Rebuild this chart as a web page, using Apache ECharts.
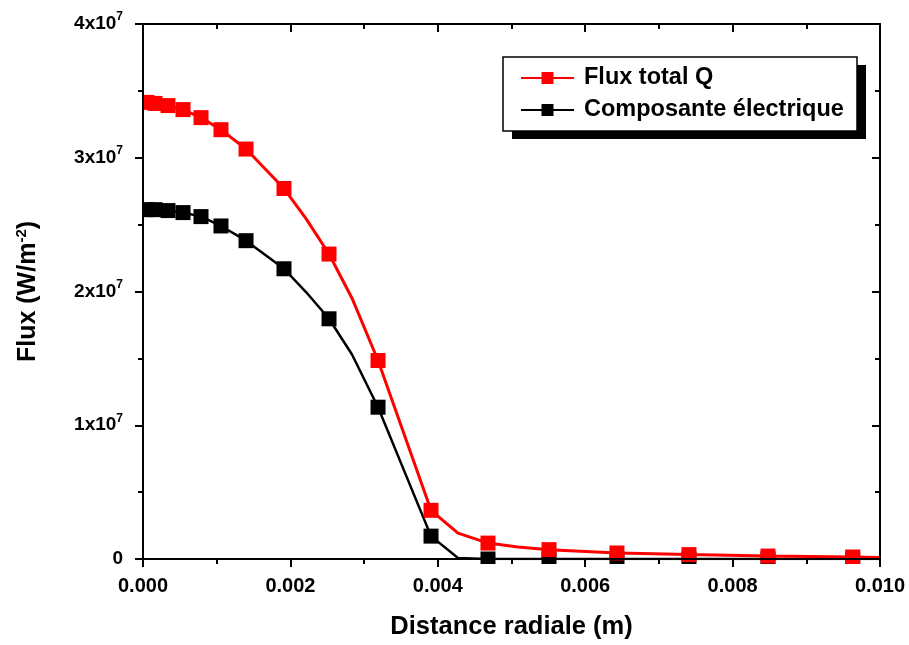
<!DOCTYPE html>
<html>
<head>
<meta charset="utf-8">
<script src="https://cdn.jsdelivr.net/npm/echarts@6/dist/echarts.min.js"></script>
<style>
html,body{margin:0;padding:0;background:#fff;}
#chart{width:909px;height:645px;}
</style>
</head>
<body>
<div id="chart"></div>
<script>
// Radial distance (m)
var radialX = [0.000054, 0.000163, 0.000339, 0.000543, 0.000787, 0.001058, 0.001398, 0.001913, 0.002212, 0.002524, 0.002836, 0.003189, 0.003908, 0.004274, 0.004681, 0.005088, 0.005509, 0.006431, 0.007408, 0.00848, 0.00963, 0.0100];
// Total flux Q (W/m^2)
var fluxTotal = [3.414e7, 3.406e7, 3.39e7, 3.36e7, 3.30e7, 3.21e7, 3.065e7, 2.77e7, 2.545e7, 2.28e7, 1.95e7, 1.484e7, 0.364e7, 0.193e7, 0.119e7, 0.089e7, 0.070e7, 0.045e7, 0.033e7, 0.022e7, 0.015e7, 0.011e7];
// Electric component (W/m^2)
var fluxElectric = [2.612e7, 2.612e7, 2.605e7, 2.59e7, 2.56e7, 2.49e7, 2.38e7, 2.17e7, 1.996e7, 1.796e7, 1.529e7, 1.135e7, 0.171e7, 0.007e7, 0, 0, 0, 0, 0, 0, 0, 0];
// Which points carry a square marker (1) or are line-only (0)
var markerFlags = [1,1,1,1,1,1,1,1,0,1,0,1,1,0,1,0,1,1,1,1,1,0];
// Tick labels
var xTickLabels = ['0.000','0.002','0.004','0.006','0.008','0.010'];
var yTickMantissa = ['0','1','2','3','4'];

var seriesNames = ['Flux total Q', 'Composante électrique'];
var FONT = 'Liberation Sans, Arial, sans-serif';

function buildData(ys) {
  return radialX.map(function (x, i) {
    return markerFlags[i]
      ? { value: [x, ys[i]] }
      : { value: [x, ys[i]], symbol: 'none' };
  });
}

var chart = echarts.init(document.getElementById('chart'), null, { renderer: 'canvas' });

var GL = 143, GT = 24, GW = 737, GH = 539;
var axisLine = { show: true, onZero: false, lineStyle: { color: '#000', width: 2 } };
var tickStyle = { width: 2, color: '#000' };

var option = {
  backgroundColor: '#fff',
  animation: false,
  grid: { left: GL, top: GT, width: GW, height: GH, containLabel: false },
  graphic: [
    // white masks outside the plot frame (marks are clipped by the frame)
    { type: 'rect', z: 5, silent: true, shape: { x: GL - 30, y: GT + GH + 1, width: GW + 60, height: 12 }, style: { fill: '#fff' } },
    { type: 'rect', z: 5, silent: true, shape: { x: GL - 12, y: 60, width: 11, height: 200 }, style: { fill: '#fff' } },
    // legend frame with offset shadow
    { type: 'rect', z: 6, silent: true, shape: { x: 512, y: 65, width: 354, height: 74 }, style: { fill: '#000' } },
    { type: 'rect', z: 7, silent: true, shape: { x: 503, y: 57, width: 354, height: 74 }, style: { fill: '#fff', stroke: '#000', lineWidth: 1.5 } }
  ],
  legend: {
    data: seriesNames,
    orient: 'vertical',
    left: 503,
    top: 57,
    z: 20,
    padding: [9, 17, 6, 17],
    itemGap: 8,
    itemWidth: 53,
    itemHeight: 15,
    textStyle: { color: '#000', fontFamily: FONT, fontWeight: 'bold', fontSize: 23.5, padding: [0, 0, 0, 5] }
  },
  xAxis: [{
    type: 'value',
    min: 0, max: 0.01, interval: 0.002,
    position: 'bottom',
    z: 10,
    name: 'Distance radiale (m)',
    nameLocation: 'middle',
    nameGap: 55,
    nameTextStyle: { color: '#000', fontFamily: FONT, fontWeight: 'bold', fontSize: 25.5 },
    axisLine: axisLine,
    axisTick: { show: true, inside: false, length: 8, lineStyle: tickStyle },
    minorTick: { show: true, splitNumber: 2, length: 5, lineStyle: tickStyle },
    splitLine: { show: false },
    axisLabel: {
      margin: 17, color: '#000', fontFamily: FONT, fontWeight: 'bold', fontSize: 20,
      formatter: function (v) { return xTickLabels[Math.round(v / 0.002)]; }
    }
  }, {
    type: 'value',
    min: 0, max: 0.01, interval: 0.002,
    position: 'top',
    z: 10,
    axisLine: axisLine,
    axisTick: { show: true, inside: true, length: 8, lineStyle: tickStyle },
    minorTick: { show: true, splitNumber: 2, length: 5, lineStyle: tickStyle },
    splitLine: { show: false },
    axisLabel: { show: false }
  }],
  yAxis: [{
    type: 'value',
    min: 0, max: 4e7, interval: 1e7,
    position: 'left',
    z: 10,
    name: 'Flux (W/m{s|-2})',
    nameLocation: 'middle',
    nameRotate: 90,
    nameGap: 100,
    nameTextStyle: {
      color: '#000', fontFamily: FONT, fontWeight: 'bold', fontSize: 25,
      rich: { s: { fontFamily: FONT, fontWeight: 'bold', fontSize: 15, padding: [0, 0, 14, 0] } }
    },
    axisLine: axisLine,
    axisTick: { show: true, inside: false, length: 8, lineStyle: tickStyle },
    minorTick: { show: true, splitNumber: 2, length: 5, lineStyle: tickStyle },
    splitLine: { show: false },
    axisLabel: {
      margin: 20, color: '#000',
      formatter: function (v) {
        var m = yTickMantissa[Math.round(v / 1e7)];
        return m === '0' ? '{n|0}' : '{n|' + m + 'x10}{s|7}';
      },
      rich: {
        n: { fontFamily: FONT, fontWeight: 'bold', fontSize: 19, color: '#000' },
        s: { fontFamily: FONT, fontWeight: 'bold', fontSize: 12, color: '#000', padding: [0, 0, 14, 0] }
      }
    }
  }, {
    type: 'value',
    min: 0, max: 4e7, interval: 1e7,
    position: 'right',
    z: 10,
    axisLine: axisLine,
    axisTick: { show: true, inside: true, length: 8, lineStyle: tickStyle },
    minorTick: { show: true, splitNumber: 2, length: 5, lineStyle: tickStyle },
    splitLine: { show: false },
    axisLabel: { show: false }
  }],
  series: [{
    name: seriesNames[1],
    type: 'line',
    xAxisIndex: 0, yAxisIndex: 0,
    data: buildData(fluxElectric),
    symbol: 'rect',
    symbolSize: 15,
    showAllSymbol: true,
    lineStyle: { color: '#000', width: 2.5 },
    itemStyle: { color: '#000' },
    z: 2
  }, {
    name: seriesNames[0],
    type: 'line',
    xAxisIndex: 0, yAxisIndex: 0,
    data: buildData(fluxTotal),
    symbol: 'rect',
    symbolSize: 15,
    showAllSymbol: true,
    lineStyle: { color: '#ff0000', width: 3 },
    itemStyle: { color: '#ff0000' },
    z: 3
  }]
};
chart.setOption(option);
</script>
</body>
</html>
